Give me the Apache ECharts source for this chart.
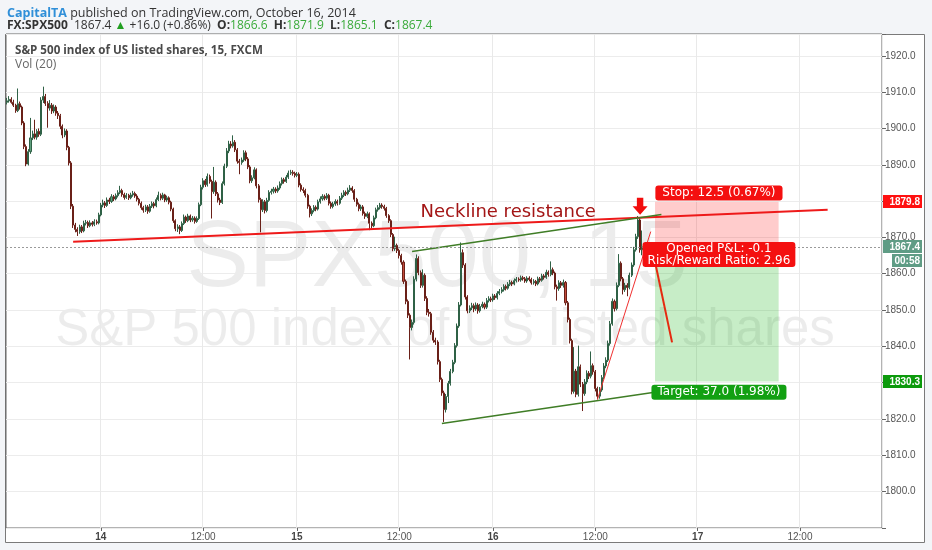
<!DOCTYPE html>
<html><head><meta charset="utf-8">
<script src="https://cdn.jsdelivr.net/npm/echarts@6/dist/echarts.min.js"></script>
<style>html,body{margin:0;padding:0;background:#f3f5f8;}#c{width:932px;height:550px;}</style>
</head><body><div id="c"></div>
<script>
// ---- data: 15-minute bars, [open, high, low, close] ----
const ohlc = [
[1907.2,1908.4,1906.6,1907.6],[1907.6,1908.9,1907.1,1908.0],[1908.0,1908.6,1906.8,1907.2],[1907.2,1907.9,1905.9,1906.4],
[1906.4,1906.8,1904.3,1904.9],[1904.9,1911.0,1904.5,1906.8],[1906.8,1907.4,1905.2,1905.9],[1905.9,1906.3,1900.9,1901.5],
[1901.5,1902.0,1894.3,1895.0],[1895.0,1895.6,1889.6,1890.2],[1890.2,1894.3,1889.8,1893.6],[1893.6,1902.9,1893.0,1897.4],
[1897.4,1899.4,1896.8,1898.5],[1898.5,1902.4,1897.0,1897.6],[1897.6,1899.8,1896.9,1899.2],[1899.2,1900.0,1897.7,1898.4],
[1898.4,1908.6,1897.9,1907.8],[1907.8,1911.5,1907.0,1908.8],[1908.8,1909.5,1906.2,1906.9],[1906.9,1907.5,1900.2,1905.6],
[1905.6,1907.8,1904.9,1906.4],[1906.4,1907.0,1904.0,1904.8],[1904.8,1906.6,1904.2,1905.9],[1905.9,1906.4,1903.5,1904.2],
[1904.2,1904.8,1902.6,1903.5],[1903.5,1904.0,1899.8,1900.6],[1900.6,1901.1,1897.3,1898.2],[1898.2,1900.0,1897.6,1899.3],
[1899.3,1899.8,1894.0,1894.8],[1894.8,1895.2,1889.8,1890.5],[1890.5,1891.0,1877.8,1878.6],[1878.6,1879.2,1872.6,1873.4],
[1873.4,1874.0,1871.4,1872.2],[1872.2,1872.8,1870.4,1871.6],[1871.6,1873.5,1871.0,1872.9],[1872.9,1873.4,1871.2,1871.8],
[1871.8,1874.6,1871.4,1873.9],[1873.9,1874.8,1873.3,1874.1],[1874.1,1874.6,1872.6,1873.2],[1873.2,1874.7,1872.8,1874.0],
[1874.0,1874.5,1873.0,1873.6],[1873.6,1875.0,1873.1,1874.3],[1874.3,1874.9,1873.5,1874.0],[1874.0,1876.8,1873.6,1876.2],
[1876.2,1879.5,1875.8,1878.9],[1878.9,1880.4,1878.3,1879.5],[1879.5,1880.0,1878.1,1878.8],[1878.8,1881.0,1878.4,1880.3],
[1880.3,1880.9,1879.2,1879.9],[1879.9,1881.9,1879.5,1881.2],[1881.2,1881.7,1880.0,1880.6],[1880.6,1882.1,1880.2,1881.5],
[1881.5,1883.0,1881.0,1882.3],[1882.3,1884.2,1881.9,1882.9],[1882.9,1883.4,1881.2,1881.8],[1881.8,1882.3,1880.4,1881.0],
[1881.0,1882.2,1880.6,1881.6],[1881.6,1882.0,1880.3,1880.9],[1880.9,1882.3,1880.5,1881.7],[1881.7,1882.8,1881.2,1882.1],
[1882.1,1882.6,1880.9,1881.4],[1881.4,1881.9,1879.9,1880.5],[1880.5,1880.9,1878.8,1879.4],[1879.4,1879.9,1877.6,1878.2],
[1878.2,1878.7,1876.8,1877.5],[1877.5,1879.0,1877.0,1878.4],[1878.4,1878.9,1876.5,1877.2],[1877.2,1879.2,1876.8,1878.6],
[1878.6,1879.9,1878.1,1879.3],[1879.3,1879.8,1878.0,1878.7],[1878.7,1881.0,1878.3,1880.4],[1880.4,1882.6,1880.0,1881.6],
[1881.6,1882.1,1880.2,1880.8],[1880.8,1882.3,1880.3,1881.7],[1881.7,1882.0,1879.7,1880.3],[1880.3,1881.5,1879.8,1880.9],
[1880.9,1881.3,1879.1,1879.7],[1879.7,1880.1,1877.2,1877.8],[1877.8,1878.2,1874.0,1874.6],[1874.6,1875.0,1871.7,1872.4],
[1872.4,1873.6,1871.5,1872.9],[1872.9,1873.4,1870.9,1871.9],[1871.9,1874.4,1871.5,1873.8],[1873.8,1876.3,1873.4,1875.6],
[1875.6,1876.0,1874.0,1874.6],[1874.6,1876.5,1874.2,1875.9],[1875.9,1876.3,1874.2,1874.8],[1874.8,1875.9,1874.3,1875.3],
[1875.3,1875.8,1873.8,1874.4],[1874.4,1875.8,1874.0,1875.2],[1875.2,1879.6,1874.8,1879.0],[1879.0,1884.5,1878.6,1883.8],
[1883.8,1886.3,1883.2,1885.6],[1885.6,1886.1,1883.9,1884.5],[1884.5,1887.6,1884.0,1886.8],[1886.8,1887.3,1884.8,1885.4],
[1885.4,1885.9,1875.2,1882.6],[1882.6,1889.4,1882.0,1885.2],[1885.2,1885.7,1881.4,1882.0],[1882.0,1882.5,1879.6,1880.3],
[1880.3,1880.9,1878.9,1879.6],[1879.6,1885.4,1879.2,1884.8],[1884.8,1890.3,1884.3,1889.6],[1889.6,1894.6,1889.1,1893.8],
[1893.8,1896.6,1893.2,1895.7],[1895.7,1896.5,1894.5,1895.2],[1895.2,1898.1,1894.7,1896.2],[1896.2,1896.8,1893.5,1894.1],
[1894.1,1894.6,1890.3,1891.0],[1891.0,1891.6,1887.4,1890.6],[1890.6,1892.0,1890.0,1891.3],[1891.3,1894.0,1890.8,1893.3],
[1893.3,1893.9,1891.0,1891.6],[1891.6,1892.1,1888.8,1889.4],[1889.4,1889.9,1884.9,1885.6],[1885.6,1887.1,1885.0,1886.4],
[1886.4,1889.3,1886.0,1888.6],[1888.6,1889.0,1883.5,1884.2],[1884.2,1884.7,1879.6,1880.4],[1880.4,1880.9,1871.4,1877.6],
[1877.6,1880.5,1877.0,1879.8],[1879.8,1880.3,1876.6,1877.4],[1877.4,1880.9,1876.9,1880.2],[1880.2,1883.0,1879.8,1882.4],
[1882.4,1883.4,1881.8,1882.7],[1882.7,1883.9,1882.1,1883.3],[1883.3,1883.8,1882.2,1882.8],[1882.8,1884.3,1882.3,1883.6],
[1883.6,1885.4,1883.1,1884.8],[1884.8,1886.5,1884.3,1885.9],[1885.9,1886.4,1884.8,1885.4],[1885.4,1887.2,1885.0,1886.6],
[1886.6,1888.4,1886.1,1887.7],[1887.7,1888.6,1887.2,1887.9],[1887.9,1888.5,1887.0,1887.6],[1887.6,1888.1,1886.5,1887.1],
[1887.1,1888.0,1886.6,1887.4],[1887.4,1887.9,1883.8,1884.4],[1884.4,1884.9,1882.6,1883.2],[1883.2,1883.8,1882.2,1882.9],
[1882.9,1883.4,1881.0,1881.6],[1881.6,1882.0,1877.9,1878.6],[1878.6,1879.0,1875.5,1876.5],[1876.5,1878.0,1875.9,1877.4],
[1877.4,1878.9,1876.9,1878.3],[1878.3,1878.8,1877.2,1877.8],[1877.8,1880.4,1877.4,1879.8],[1879.8,1881.3,1879.3,1880.6],
[1880.6,1881.9,1880.1,1881.3],[1881.3,1881.8,1880.2,1880.8],[1880.8,1882.2,1880.3,1881.6],[1881.6,1882.0,1878.8,1879.4],
[1879.4,1879.9,1877.9,1878.5],[1878.5,1879.8,1878.0,1879.2],[1879.2,1880.5,1878.7,1879.9],[1879.9,1880.4,1878.8,1879.4],
[1879.4,1881.4,1879.0,1880.8],[1880.8,1882.3,1880.3,1881.6],[1881.6,1883.0,1881.1,1882.4],[1882.4,1882.9,1881.4,1882.0],
[1882.0,1883.7,1881.6,1883.0],[1883.0,1884.4,1882.5,1883.6],[1883.6,1884.1,1882.3,1882.9],[1882.9,1883.3,1879.8,1880.5],
[1880.5,1880.9,1878.5,1879.1],[1879.1,1879.6,1877.2,1877.9],[1877.9,1879.0,1877.3,1878.4],[1878.4,1878.9,1876.0,1876.6],
[1876.6,1877.1,1875.1,1875.8],[1875.8,1877.1,1875.3,1876.5],[1876.5,1876.9,1872.0,1873.9],[1873.9,1874.4,1872.5,1873.2],
[1873.2,1876.0,1872.8,1875.4],[1875.4,1878.2,1875.0,1877.6],[1877.6,1878.9,1877.1,1878.2],[1878.2,1879.5,1877.7,1878.9],
[1878.9,1879.4,1877.9,1878.5],[1878.5,1879.0,1877.4,1878.0],[1878.0,1878.4,1875.4,1876.0],[1876.0,1876.4,1874.0,1874.6],
[1874.6,1875.0,1870.1,1870.8],[1870.8,1871.2,1866.2,1866.9],[1866.9,1870.2,1866.3,1867.8],[1867.8,1868.3,1865.7,1866.4],
[1866.4,1866.9,1864.2,1865.0],[1865.0,1865.5,1862.5,1863.2],[1863.2,1863.7,1857.2,1857.9],[1857.9,1858.4,1851.6,1852.4],
[1852.4,1852.9,1847.8,1848.6],[1848.6,1849.1,1836.4,1845.2],[1845.2,1847.4,1844.4,1846.6],[1846.6,1859.3,1846.0,1858.5],
[1858.5,1865.3,1857.9,1864.2],[1864.2,1864.8,1859.6,1860.3],[1860.3,1860.9,1856.1,1856.8],[1856.8,1861.2,1856.2,1859.6],
[1859.6,1860.1,1852.5,1853.2],[1853.2,1853.8,1848.6,1849.4],[1849.4,1850.3,1848.2,1849.0],[1849.0,1849.5,1843.2,1843.9],
[1843.9,1844.5,1841.0,1841.7],[1841.7,1842.4,1840.4,1841.2],[1841.2,1841.7,1835.0,1835.8],[1835.8,1836.3,1830.2,1830.9],
[1830.9,1831.4,1826.4,1827.2],[1827.2,1827.8,1819.2,1822.6],[1822.6,1826.9,1821.8,1826.2],[1826.2,1830.5,1824.4,1829.8],
[1829.8,1833.8,1829.2,1833.1],[1833.1,1836.3,1832.6,1835.6],[1835.6,1840.9,1835.1,1840.2],[1840.2,1846.3,1839.7,1845.6],
[1845.6,1852.2,1845.1,1851.4],[1851.4,1868.6,1851.0,1865.8],[1865.8,1866.7,1861.6,1862.4],[1862.4,1862.9,1852.9,1853.6],
[1853.6,1854.1,1849.1,1849.8],[1849.8,1851.3,1849.2,1850.6],[1850.6,1852.0,1850.0,1851.2],[1851.2,1851.8,1849.4,1850.3],
[1850.3,1852.1,1849.8,1851.4],[1851.4,1851.9,1849.0,1849.8],[1849.8,1851.7,1849.3,1851.0],[1851.0,1852.3,1850.5,1851.6],
[1851.6,1852.1,1850.2,1850.8],[1850.8,1853.3,1850.3,1852.6],[1852.6,1853.8,1852.1,1853.1],[1853.1,1853.7,1852.2,1852.8],
[1852.8,1854.5,1852.3,1853.9],[1853.9,1854.4,1852.8,1853.4],[1853.4,1855.2,1852.9,1854.6],[1854.6,1855.8,1854.1,1855.1],
[1855.1,1856.3,1854.6,1855.6],[1855.6,1857.1,1855.1,1856.5],[1856.5,1857.0,1855.4,1856.0],[1856.0,1857.7,1855.6,1857.1],
[1857.1,1858.3,1856.6,1857.6],[1857.6,1858.1,1856.6,1857.2],[1857.2,1858.7,1856.8,1858.1],[1858.1,1859.1,1857.6,1858.5],
[1858.5,1859.0,1857.8,1858.3],[1858.3,1859.5,1857.8,1858.9],[1858.9,1859.4,1858.1,1858.6],[1858.6,1859.1,1857.5,1858.0],
[1858.0,1859.3,1857.5,1858.8],[1858.8,1859.3,1857.9,1858.4],[1858.4,1858.9,1857.0,1857.5],[1857.5,1858.5,1857.0,1857.9],
[1857.9,1858.3,1856.6,1857.2],[1857.2,1859.2,1856.8,1858.6],[1858.6,1859.1,1857.6,1858.2],[1858.2,1860.0,1857.8,1859.4],
[1859.4,1859.9,1858.4,1859.0],[1859.0,1861.1,1858.6,1860.4],[1860.4,1860.9,1859.2,1859.8],[1859.8,1863.4,1859.3,1861.1],
[1861.1,1861.7,1859.6,1860.2],[1860.2,1860.6,1855.7,1856.4],[1856.4,1857.0,1852.6,1855.9],[1855.9,1858.2,1855.3,1857.5],
[1857.5,1858.0,1856.1,1856.8],[1856.8,1858.4,1856.2,1857.6],[1857.6,1858.0,1851.3,1852.0],[1852.0,1852.5,1846.6,1847.4],
[1847.4,1847.9,1840.8,1841.6],[1841.6,1842.1,1826.8,1827.6],[1827.6,1839.8,1827.0,1833.2],[1833.2,1833.8,1826.0,1826.8],
[1826.8,1840.2,1826.2,1834.4],[1834.4,1835.0,1828.8,1829.6],[1829.6,1830.2,1822.2,1827.0],[1827.0,1831.0,1826.4,1830.2],
[1830.2,1833.4,1829.6,1832.6],[1832.6,1833.2,1831.0,1831.8],[1831.8,1838.6,1831.2,1834.7],[1834.7,1835.3,1832.2,1833.0],
[1833.0,1833.5,1827.6,1828.4],[1828.4,1828.9,1825.4,1826.3],[1826.3,1828.8,1825.6,1828.0],[1828.0,1832.1,1827.5,1831.4],
[1831.4,1835.4,1830.9,1834.6],[1834.6,1837.0,1834.0,1836.2],[1836.2,1841.6,1835.7,1840.8],[1840.8,1847.0,1840.2,1846.2],
[1846.2,1853.2,1845.7,1852.4],[1852.4,1852.9,1849.6,1850.4],[1850.4,1857.6,1849.9,1856.8],[1856.8,1865.4,1856.3,1862.9],
[1862.9,1863.4,1857.9,1858.6],[1858.6,1859.1,1854.3,1855.6],[1855.6,1857.5,1855.0,1856.8],[1856.8,1857.4,1853.8,1856.2],
[1856.2,1860.3,1855.7,1859.6],[1859.6,1863.1,1859.1,1862.4],[1862.4,1867.4,1861.9,1866.6],[1866.6,1871.0,1866.1,1870.2],
[1870.2,1875.9,1869.6,1874.8],[1874.8,1875.3,1865.8,1866.6],[1866.6,1871.9,1865.1,1867.4]
];

// ---- time axis: first bar, bar count incl. projected space, daily session break ----
const firstBarUTC = Date.UTC(2014, 9, 13, 12, 0);
const totalBars = 411;
const breakHour = 19;
const firstLabelBar = 8;

// ---- price axis ----
const yMin = 1790, yMax = 1926, yStep = 10;
const yLabelMin = 1800, yLabelMax = 1920;

// ---- trade / annotation values ([bar index, price]) ----
const lastPrice = 1867.4;
const stopPrice = 1879.8, entryPrice = 1867.3, targetPrice = 1830.3;
const zoneBars = [304, 362];
const neckline = [[31, 1868.8], [385, 1877.6]];
const channelTop = [[190, 1866.1], [307, 1876.3]];
const channelBottom = [[204, 1818.8], [303, 1827.3]];
const riseLine = [[277, 1825.4], [302, 1871.6]];
const dropLine = [[304, 1863.3], [312, 1841.1]];
const arrowAt = [297, 1878.6];
const necklineTextAt = [194, 1876.8];
const stopLabelAt = [334, 1882.2];
const pnlLabelAt = [334, 1865.3];
const targetLabelAt = [334, 1827.4];

const pad = n => (n < 10 ? '0' : '') + n;
const categories = [];
for (let t = firstBarUTC; categories.length < totalBars; t += 15 * 60000) {
  const d = new Date(t);
  if (categories.length < ohlc.length && d.getUTCHours() === breakHour) continue;
  categories.push(pad(d.getUTCDate()) + ' ' + pad(d.getUTCHours()) + ':' + pad(d.getUTCMinutes()));
}
const isMajor = (i, v) => i >= firstLabelBar && (v.endsWith(' 00:00') || v.endsWith(' 12:00'));

const AX = 'Liberation Sans';
const chart = echarts.init(document.getElementById('c'), null, {renderer: 'canvas'});

function lineSeries(pts, color, width) {
  return {type: 'line', data: pts, symbol: 'none', silent: true, z: 4, animation: false,
    lineStyle: {color: color, width: width}};
}

const option = {
  animation: false,
  backgroundColor: '#f3f5f8',
  grid: {left: 6, right: 50, top: 34, bottom: 22, show: true, borderColor: '#666', borderWidth: 1,
    backgroundColor: 'transparent', containLabel: false, outerBoundsMode: 'none'},
  xAxis: {
    type: 'category', data: categories, boundaryGap: true,
    axisLine: {show: false},
    axisTick: {show: true, interval: isMajor, alignWithLabel: true, length: 3, lineStyle: {color: '#666'}},
    splitLine: {show: true, interval: isMajor, lineStyle: {color: '#e9e9e9'}},
    axisLabel: {
      interval: isMajor, margin: 4, fontSize: 10, color: '#555', fontFamily: AX, hideOverlap: false,
      formatter: v => v.endsWith('00:00') ? '{d|' + String(parseInt(v.slice(0, 2), 10)) + '}' : v.slice(3),
      rich: {d: {fontWeight: 'bold', fontSize: 10, color: '#444', fontFamily: AX}}
    }
  },
  yAxis: {
    type: 'value', position: 'right', min: yMin, max: yMax, interval: yStep, scale: true,
    axisLine: {show: false},
    axisTick: {show: true, length: 4, lineStyle: {color: '#666'}},
    splitLine: {show: true, lineStyle: {color: '#ececec'}},
    axisLabel: {margin: 3, fontSize: 10, color: '#555', fontFamily: AX,
      formatter: v => (v >= yLabelMin && v <= yLabelMax) ? v.toFixed(1) : ''}
  },
  series: [
    {
      type: 'candlestick', z: 3,
      data: ohlc.map(r => [r[0], r[3], r[2], r[1]]),
      barWidth: '72%',
      itemStyle: {color: '#5f9f7d', color0: '#c24a3a', borderColor: '#2f6146', borderColor0: '#6a2018', borderWidth: 1},
      markLine: {
        silent: true, symbol: 'none', animation: false,
        label: {show: false},
        lineStyle: {type: [2, 2], color: '#9a9a9a', width: 1},
        data: [{yAxis: lastPrice}]
      },
      markArea: {
        silent: true, animation: false,
        data: [
          [{coord: [zoneBars[0], stopPrice], itemStyle: {color: 'rgba(255,0,0,0.2)'}}, {coord: [zoneBars[1], entryPrice]}],
          [{coord: [zoneBars[0], entryPrice], itemStyle: {color: 'rgba(0,175,0,0.22)'}}, {coord: [zoneBars[1], targetPrice]}]
        ]
      },
      markPoint: {
        silent: true, animation: false,
        data: [
          {coord: arrowAt, symbol: 'path://M4,0 L10,0 L10,8 L14,8 L7,16 L0,8 L4,8 Z', symbolSize: [15, 17],
            symbolOffset: [0, 0], itemStyle: {color: '#f20c0c'}, label: {show: false}},
          {coord: necklineTextAt, symbol: 'circle', symbolSize: 0, symbolOffset: [0, 0],
            label: {show: true, position: 'right', distance: 0, formatter: 'Neckline resistance',
              color: '#a31515', fontSize: 18, fontFamily: 'DejaVu Sans'}},
          {coord: stopLabelAt, symbol: 'circle', symbolSize: 0, symbolOffset: [0, 0],
            label: {show: true, position: 'inside', formatter: 'Stop: 12.5 (0.67%)', color: '#fff',
              backgroundColor: '#f41010', padding: [2, 7, 1, 7], borderRadius: 3, fontSize: 12, fontFamily: 'DejaVu Sans'}},
          {coord: pnlLabelAt, symbol: 'circle', symbolSize: 0, symbolOffset: [0, 0],
            label: {show: true, position: 'inside', formatter: 'Opened P&L: -0.1\nRisk/Reward Ratio: 2.96', color: '#fff',
              lineHeight: 12, align: 'center',
              backgroundColor: '#f41010', padding: [1, 5, 0, 5], borderRadius: 3, fontSize: 12, fontFamily: 'DejaVu Sans'}},
          {coord: targetLabelAt, symbol: 'circle', symbolSize: 0, symbolOffset: [0, 0],
            label: {show: true, position: 'inside', formatter: 'Target: 37.0 (1.98%)', color: '#fff',
              backgroundColor: '#12a012', padding: [2, 6, 1, 6], borderRadius: 3, fontSize: 12, fontFamily: 'DejaVu Sans'}}
        ]
      }
    },
    lineSeries(neckline, '#ee1a1a', 2),
    lineSeries(channelTop, '#3f7d26', 1.5),
    lineSeries(channelBottom, '#3f7d26', 1.5),
    lineSeries(riseLine, '#f03030', 1),
    lineSeries(dropLine, '#e52a10', 2)
  ]
};
chart.setOption(option);

// ---- texts and right-hand price tags (positioned through the axis scale) ----
function priceTag(price, text, bg, left, dy) {
  const y = Math.round(chart.convertToPixel({yAxisIndex: 0}, price)) + (dy || 0);
  return [
    {type: 'rect', z: 30, silent: true, shape: {x: left, y: y - 7, width: 922 - left, height: 13}, style: {fill: bg}},
    {type: 'text', z: 31, silent: true, x: 920, y: y, style: {text: text, fill: '#fff', font: 'bold 10px ' + AX, align: 'right', verticalAlign: 'middle'}}
  ];
}

const OS = 'Open Sans';
chart.setOption({
  graphic: [
    {type: 'rect', z: -10, silent: true, shape: {x: 5.5, y: 34.5, width: 919, height: 508}, style: {fill: '#ffffff', stroke: '#7a7a7a', lineWidth: 1}},
    {type: 'text', z: -5, silent: true, x: 437, y: 260, style: {text: 'SPX500, 15', fill: 'rgba(0,0,0,0.075)', font: '94px ' + AX, align: 'center', verticalAlign: 'middle'}},
    {type: 'text', z: -5, silent: true, x: 445, y: 331, style: {text: 'S&P 500 index of US listed shares', fill: 'rgba(0,0,0,0.075)', font: '51px ' + AX, align: 'center', verticalAlign: 'middle'}},
    {type: 'text', z: 20, x: 7, y: 13, style: {
      text: '{a|CapitalTA}{b| published on TradingView.com, October 16, 2014}', verticalAlign: 'middle',
      rich: {a: {fill: '#2f8fd8', fontSize: 12.5, fontFamily: OS, fontWeight: 'bold'}, b: {fill: '#333', fontSize: 12.5, fontFamily: OS}}}},
    {type: 'text', z: 20, x: 7, y: 26, style: {
      text: '{k|FX:SPX500}{n|  1867.4 }{g|▲}{n| +16.0 (+0.86%)  }{k|O:}{v|1866.6}{k|  H:}{v|1871.9}{k|  L:}{v|1865.1}{k|  C:}{v|1867.4}',
      verticalAlign: 'middle',
      rich: {k: {fill: '#333', fontSize: 12, fontFamily: OS, fontWeight: 'bold'},
        n: {fill: '#333', fontSize: 12, fontFamily: OS},
        g: {fill: '#22a022', fontSize: 12, fontFamily: OS},
        v: {fill: '#3aaa3a', fontSize: 12, fontFamily: OS}}}},
    {type: 'text', z: 20, x: 15, y: 51, style: {text: 'S&P 500 index of US listed shares, 15, FXCM', fill: '#4a4a4a', font: 'bold 11.6px ' + OS, verticalAlign: 'middle'}},
    {type: 'text', z: 20, x: 15, y: 65, style: {text: 'Vol (20)', fill: '#666', font: '12px ' + OS, verticalAlign: 'middle'}}
  ].concat(
    priceTag(stopPrice, '1879.8', '#ff1010', 883),
    priceTag(lastPrice, '1867.4', '#5f9c85', 883),
    priceTag(lastPrice, '00:58', '#5f9c85', 892, 14),
    priceTag(targetPrice, '1830.3', '#0c9a0c', 883)
  )
});
</script>
</body></html>
